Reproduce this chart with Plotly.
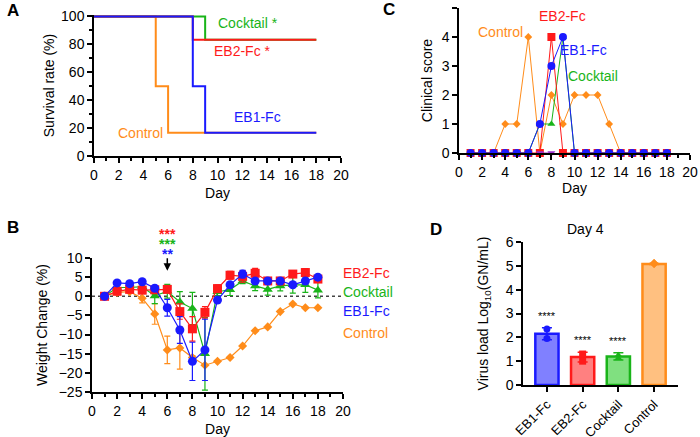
import plotly.graph_objs as go
from plotly import subplots

W, H = 700, 437
FONT = "Arial, Liberation Sans, sans-serif"

RED = "#ff1a1a"
GREEN = "#19b419"
BLUE = "#1a1aff"
ORANGE = "#ff8c1a"
PURPLE = "#9a32cd"

# ---- A: survival ----
surv_control_x = [0, 5, 6, 18]
surv_control_y = [100, 50, 16.7, 16.7]
surv_eb1_x = [0, 8, 9, 18]
surv_eb1_y = [100, 50, 16.7, 16.7]
surv_eb2_x = [0, 8, 18]
surv_eb2_y = [100, 83.3, 83.3]
surv_cocktail_x = [0, 9, 18]
surv_cocktail_y = [100, 83.3, 83.3]

# ---- B: weight change ----
days = list(range(1, 19))
wt_control = [0, 1.0, 1.2, -0.5, -4.6, -14, -13.5, -16, -18, -17, -16, -13, -9, -8, -4, -2, -3, -3]
wt_control_err = [0, 0, 0, 1.2, 2.7, 3.6, 5.5, 0.5, 0, 0, 0, 0, 0, 0, 0, 0, 0, 0]
wt_eb2 = [0, 1.3, 1.8, 1.6, 1.7, 1.8, -4, -8.5, -4.2, 2, 5.5, 5.2, 6, 4, 4, 5.8, 6.2, 4.5]
wt_eb2_err = [0, 0.5, 0.5, 0.5, 0.5, 0.8, 2, 3.2, 1.5, 1, 1, 1.5, 1.3, 0.5, 0.5, 0.7, 1, 0.7]
wt_cocktail = [0, 2.3, 2.3, 2.5, 0.1, 1.3, -1.5, -3.2, -15, 1.2, 1.7, 4, 2.7, 1.8, 2.7, 3.0, 3.0, 1.6]
wt_cocktail_err = [0, 0.5, 0.5, 0.5, 2, 1.8, 2.7, 4.2, 9.5, 1, 1.5, 0.7, 1.2, 1.5, 1.3, 2.2, 2, 2]
wt_eb1 = [0, 3.5, 3.3, 3.8, 2.1, -3, -8.8, -17, -14, -1, 3, 5.8, 4, 4, 4, 3, 4, 5]
wt_eb1_err = [0, 0.6, 0.3, 0.5, 0.3, 2.2, 3.5, 5, 8, 0.5, 0.5, 1, 0.5, 0.5, 0.5, 0.5, 0.5, 0.5]

# ---- C: clinical score ----
cs_control = [0, 0, 0, 1, 1, 4, 0, 2, 1, 2, 2, 2, 1, 0, 0, 0, 0, 0]
cs_eb2 = [0, 0, 0, 0, 0, 0, 0, 4, 0, 0, 0, 0, 0, 0, 0, 0, 0, 0]
cs_cocktail = [0, 0, 0, 0, 0, 0, 1, 1, 4, 0, 0, 0, 0, 0, 0, 0, 0, 0]
cs_other_x = [7, 8]
cs_other = [0, 0]
cs_eb1 = [0, 0, 0, 0, 0, 0, 1, 3, 4, 0, 0, 0, 0, 0, 0, 0, 0, 0]

# ---- D: virus load ----
groups = ["EB1-Fc", "EB2-Fc", "Cocktail", "Control"]
vl_mean = [2.15, 1.17, 1.2, 5.08]
vl_sd = [0.25, 0.2, 0.15, 0.02]
vl_points = [[2.35, 1.95], [1.3, 1.0], [1.25, 1.12], [5.1, 5.1]]
vl_sig = ["****", "****", "****", ""]
bar_fill = ["#8080ff", "#ff8080", "#80e080", "#ffc080"]
bar_line = [BLUE, RED, GREEN, ORANGE]
pt_symbol = ["circle", "square", "triangle-up", "diamond"]


def px(x):
    return x / W


def py(y):
    return 1 - y / H


fig = subplots.make_subplots(rows = 2, cols = 2)

# A
for xs, ys, color in [
    (surv_control_x, surv_control_y, ORANGE),
    (surv_cocktail_x, surv_cocktail_y, GREEN),
    (surv_eb2_x, surv_eb2_y, RED),
    (surv_eb1_x, surv_eb1_y, BLUE),
]:
    fig.add_trace(
        go.Scatter(x = xs, y = ys, mode = "lines", line = dict(color = color, width = 2, shape = "hv")),
        row = 1, col = 1
    )

# B
for ys, err, color, symbol, size in [
    (wt_control, wt_control_err, ORANGE, "diamond", 7),
    (wt_cocktail, wt_cocktail_err, GREEN, "triangle-up", 9),
    (wt_eb2, wt_eb2_err, RED, "square", 9),
    (wt_eb1, wt_eb1_err, BLUE, "circle", 9),
]:
    fig.add_trace(
        go.Scatter(
            x = days, y = ys, mode = "lines+markers",
            line = dict(color = color, width = 1.2),
            marker = dict(color = color, symbol = symbol, size = size),
            error_y = dict(type = "data", array = err, color = color, thickness = 1.2, width = 3),
            cliponaxis = False
        ),
        row = 2, col = 1
    )

# C
for xs, ys, color, symbol, size in [
    (days, cs_control, ORANGE, "diamond", 6),
    (days, cs_cocktail, GREEN, "triangle-up", 7),
    (days, cs_eb2, RED, "square", 8),
    (cs_other_x, cs_other, PURPLE, "triangle-down", 7),
    (days, cs_eb1, BLUE, "circle", 8),
]:
    fig.add_trace(
        go.Scatter(
            x = xs, y = ys, mode = "lines+markers",
            line = dict(color = color, width = 1),
            marker = dict(color = color, symbol = symbol, size = size),
            cliponaxis = False
        ),
        row = 1, col = 2
    )

# D
for i, g in enumerate(groups):
    fig.add_trace(
        go.Bar(
            x = [i], y = [vl_mean[i]], width = 0.65,
            marker = dict(color = bar_fill[i], line = dict(color = bar_line[i], width = 2.5)),
            error_y = dict(type = "data", array = [vl_sd[i]], color = bar_line[i], thickness = 1.5, width = 5)
        ),
        row = 2, col = 2
    )
    fig.add_trace(
        go.Scatter(
            x = [i] * len(vl_points[i]), y = vl_points[i], mode = "markers",
            marker = dict(color = bar_line[i], symbol = pt_symbol[i], size = 7),
            cliponaxis = False
        ),
        row = 2, col = 2
    )
    if vl_sig[i]:
        fig.add_annotation(
            x = i, y = vl_mean[i] + vl_sd[i], xref = "x4", yref = "y4",
            text = vl_sig[i], showarrow = False, yanchor = "bottom", yshift = 4,
            font = dict(size = 11, color = "black")
        )

axis_style = dict(
    showgrid = False, zeroline = False, showline = True, linecolor = "black", linewidth = 1.5,
    ticks = "outside", ticklen = 5, tickwidth = 1.5, tickcolor = "black", automargin = False,
    tickfont = dict(size = 14, color = "black", family = FONT)
)
title_font = dict(size = 14, color = "black", family = FONT)

fig.update_layout(
    width = W, height = H,
    margin = dict(l = 0, r = 0, t = 0, b = 0),
    paper_bgcolor = "white", plot_bgcolor = "white",
    showlegend = False,
    font = dict(family = FONT, color = "black"),
    # A
    xaxis = dict(axis_style, domain = [px(94), px(341)], range = [0, 20], dtick = 2,
                 minor = dict(dtick = 1, ticks = "outside", ticklen = 3, tickcolor = "black"),
                 title = dict(text = "Day", font = title_font, standoff = 7), anchor = "y"),
    yaxis = dict(axis_style, domain = [py(156), py(15)], range = [0, 101], dtick = 20,
                 minor = dict(dtick = 10, ticks = "outside", ticklen = 3, tickcolor = "black"),
                 title = dict(text = "Survival rate (%)", font = title_font, standoff = 3), anchor = "x"),
    # C
    xaxis2 = dict(axis_style, domain = [px(459), px(690)], range = [0, 20], dtick = 2,
                  minor = dict(dtick = 1, ticks = "outside", ticklen = 3, tickcolor = "black"),
                  title = dict(text = "Day", font = title_font, standoff = 3), anchor = "y2"),
    yaxis2 = dict(axis_style, domain = [py(153), py(8)], range = [0, 5], dtick = 1,
                  title = dict(text = "Clinical score", font = title_font, standoff = 6), anchor = "x2"),
    # B
    xaxis3 = dict(axis_style, domain = [px(92), px(343)], range = [0, 20], dtick = 2,
                  minor = dict(dtick = 1, ticks = "outside", ticklen = 3, tickcolor = "black"),
                  title = dict(text = "Day", font = title_font, standoff = 12), anchor = "y3"),
    yaxis3 = dict(axis_style, domain = [py(392), py(258)], range = [-25, 10], dtick = 5,
                  title = dict(text = "Weight Change (%)", font = title_font, standoff = 8), anchor = "x3"),
    # D
    xaxis4 = dict(axis_style, domain = [px(523), px(678)], range = [-0.67, 3.67],
                  tickvals = list(range(len(groups))), ticktext = groups, tickangle = -45,
                  tickfont = dict(size = 13, color = "black", family = FONT), anchor = "y4"),
    yaxis4 = dict(axis_style, domain = [py(385), py(242)], range = [0, 6], dtick = 1,
                  title = dict(text = "Virus load Log<sub>10</sub>(GN/mL)", font = title_font, standoff = 14),
                  anchor = "x4"),
)

# dotted zero line in B
fig.add_shape(type = "line", xref = "x3", yref = "y3", x0 = 0, x1 = 20, y0 = 0, y1 = 0,
              line = dict(color = "#444444", width = 1.5, dash = "dot"), layer = "below")

notes = [
    ("A", 13, 10, "black", 17, True),
    ("B", 13, 227, "black", 17, True),
    ("C", 389, 9, "black", 17, True),
    ("D", 436, 229, "black", 17, True),
    ("Cocktail *", 248, 23, GREEN, 14, False),
    ("EB2-Fc *", 242, 51, RED, 14, False),
    ("EB1-Fc", 257, 117, BLUE, 14, False),
    ("Control", 140, 133, ORANGE, 14, False),
    ("EB2-Fc", 562, 16, RED, 14, False),
    ("Control", 500, 32, ORANGE, 14, False),
    ("EB1-Fc", 583, 50, BLUE, 14, False),
    ("Cocktail", 593, 76, GREEN, 14, False),
    ("Day 4", 585, 229, "black", 14, False),
    ("***", 167, 234, RED, 14, True),
    ("***", 167, 244, GREEN, 14, True),
    ("**", 167, 254, BLUE, 14, True),
]
for text, x, y, color, size, bold in notes:
    fig.add_annotation(
        x = px(x), y = py(y), xref = "paper", yref = "paper", showarrow = False,
        text = "<b>" + text + "</b>" if bold else text,
        font = dict(size = size, color = color, family = FONT), xanchor = "center", yanchor = "middle"
    )

for text, y, color in [("EB2-Fc", 273, RED), ("Cocktail", 292, GREEN), ("EB1-Fc", 311, BLUE), ("Control", 333, ORANGE)]:
    fig.add_annotation(
        x = px(341), y = py(y), xref = "paper", yref = "paper", showarrow = False, text = text,
        font = dict(size = 14, color = color, family = FONT), xanchor = "left", yanchor = "middle"
    )

# arrow at day 6 in B
fig.add_annotation(x = 6, y = 6.7, xref = "x3", yref = "y3", text = "", showarrow = True,
                   arrowhead = 2, arrowsize = 1, arrowwidth = 1.5, arrowcolor = "black", ax = 0, ay = -14)

fig.write_html("out.html", config = {"displayModeBar": False},
               post_script = "document.body.style.margin = '0';")
